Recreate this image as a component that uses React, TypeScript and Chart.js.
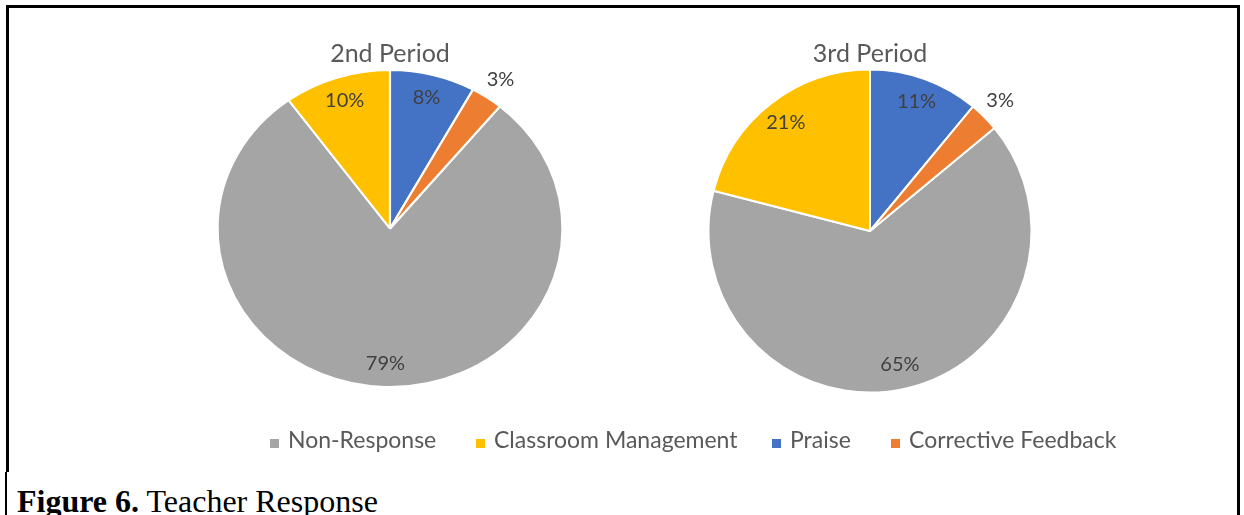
import React, { useEffect, useRef } from "react";
import { Chart, registerables } from "chart.js";

Chart.register(...registerables);

const categories = ["Non-Response", "Classroom Management", "Praise", "Corrective Feedback"];
const sliceColors = ["#A5A5A5", "#FFC000", "#4472C4", "#ED7D31"];
const period2Values = [79, 10, 8, 3];
const period3Values = [65, 21, 11, 3];
const chartTitles = ["2nd Period", "3rd Period"];
const captionBold = "Figure 6.";
const captionText = "Teacher Response";

const FONT = "Lato, 'Open Sans', sans-serif";

type PieProps = {
  values: number[];
  title: string;
  left: number;
  top: number;
  width: number;
  height: number;
  padBottom: number;
  radius: number;
  sx: number;
};

function PieChart({ values, title, left, top, width, height, padBottom, radius, sx }: PieProps) {
  const ref = useRef<HTMLCanvasElement | null>(null);
  useEffect(() => {
    if (!ref.current) return;
    const total = values.reduce((a, b) => a + b, 0);
    // Excel-style "angle of first slice": first two categories end at 12 o'clock
    const rotation = (360 * (total - values[0] - values[1])) / total;

    const stretch = {
      id: "stretch",
      beforeDatasetsDraw(chart: any) {
        const ctx = chart.ctx;
        const ca = chart.chartArea;
        const cx = (ca.left + ca.right) / 2;
        ctx.save();
        ctx.translate(cx, 0);
        ctx.scale(sx, 1);
        ctx.translate(-cx, 0);
      },
      afterDatasetsDraw(chart: any) {
        chart.ctx.restore();
      },
    };

    const labels = {
      id: "sliceLabels",
      afterDatasetsDraw(chart: any) {
        const ctx = chart.ctx;
        const meta = chart.getDatasetMeta(0);
        const data = chart.data.datasets[0].data as number[];
        const sum = data.reduce((a, b) => a + b, 0);
        ctx.save();
        ctx.font = `20px ${FONT}`;
        ctx.fillStyle = "#404040";
        ctx.textAlign = "center";
        ctx.textBaseline = "middle";
        meta.data.forEach((arc: any, i: number) => {
          const p = arc.getProps(["x", "y", "startAngle", "endAngle", "outerRadius"], true);
          const mid = (p.startAngle + p.endAngle) / 2;
          const pct = (data[i] / sum) * 100;
          const d = pct < 5 ? p.outerRadius * 1.14 : p.outerRadius * 0.85;
          const x = p.x + Math.cos(mid) * d * sx;
          const y = p.y + Math.sin(mid) * d;
          ctx.fillText(`${Math.round(pct)}%`, x, y);
        });
        ctx.restore();
      },
    };

    const chart = new Chart(ref.current, {
      type: "pie",
      data: {
        labels: categories,
        datasets: [
          {
            data: values,
            backgroundColor: sliceColors,
            borderColor: "#FFFFFF",
            borderWidth: 2,
            radius: radius,
            rotation: rotation,
          } as any,
        ],
      },
      options: {
        animation: false,
        responsive: false,
        maintainAspectRatio: false,
        radius: radius,
        rotation: rotation,
        layout: { padding: { top: 0, left: 0, right: 0, bottom: padBottom } },
        plugins: {
          legend: { display: false },
          tooltip: { enabled: false },
          title: {
            display: true,
            text: title,
            color: "#595959",
            font: { family: FONT, size: 25, weight: "normal" as any },
            padding: { top: 9, bottom: 4 },
          },
        },
      } as any,
      plugins: [stretch, labels],
    });
    return () => chart.destroy();
  }, [values, title, radius, sx, padBottom]);

  return (
    <canvas
      ref={ref}
      width={width}
      height={height}
      style={{ position: "absolute", left, top, width, height }}
    />
  );
}

const legendLefts = [270, 476, 772, 891];

export default function App() {
  return (
    <div
      style={{
        position: "absolute",
        left: 0,
        top: 0,
        width: 1244,
        height: 515,
        background: "#FFFFFF",
        overflow: "hidden",
      }}
    >
      <div
        style={{
          position: "absolute",
          left: 6,
          top: 5,
          width: 1234,
          height: 467,
          boxSizing: "border-box",
          borderTop: "3px solid #000",
          borderLeft: "3px solid #000",
          borderRight: "3px solid #000",
        }}
      />
      <div style={{ position: "absolute", left: 5, top: 472, width: 2, height: 43, background: "#000" }} />
      <div style={{ position: "absolute", left: 1237, top: 472, width: 3, height: 43, background: "#000" }} />

      <PieChart
        values={period2Values}
        title={chartTitles[0]}
        left={190}
        top={30}
        width={400}
        height={400}
        padBottom={46}
        radius={158.5}
        sx={1.088}
      />
      <PieChart
        values={period3Values}
        title={chartTitles[1]}
        left={670}
        top={30}
        width={400}
        height={400}
        padBottom={41}
        radius={161.5}
        sx={1}
      />

      {categories.map((c, i) => (
        <div
          key={c}
          style={{ position: "absolute", left: legendLefts[i], top: 426, height: 30, whiteSpace: "nowrap" }}
        >
          <span
            style={{
              position: "absolute",
              left: 0,
              top: 13,
              width: 9,
              height: 9,
              background: sliceColors[i],
            }}
          />
          <span
            style={{
              position: "absolute",
              left: 18,
              top: -1,
              fontFamily: FONT,
              fontSize: 23,
              lineHeight: "normal",
              color: "#595959",
            }}
          >
            {c}
          </span>
        </div>
      ))}

      <div
        style={{
          position: "absolute",
          left: 17,
          top: 483,
          fontFamily: "'Liberation Serif', 'Times New Roman', serif",
          fontSize: 32,
          lineHeight: "normal",
          color: "#000",
          whiteSpace: "nowrap",
        }}
      >
        <b>{captionBold}</b> {captionText}
      </div>
    </div>
  );
}
